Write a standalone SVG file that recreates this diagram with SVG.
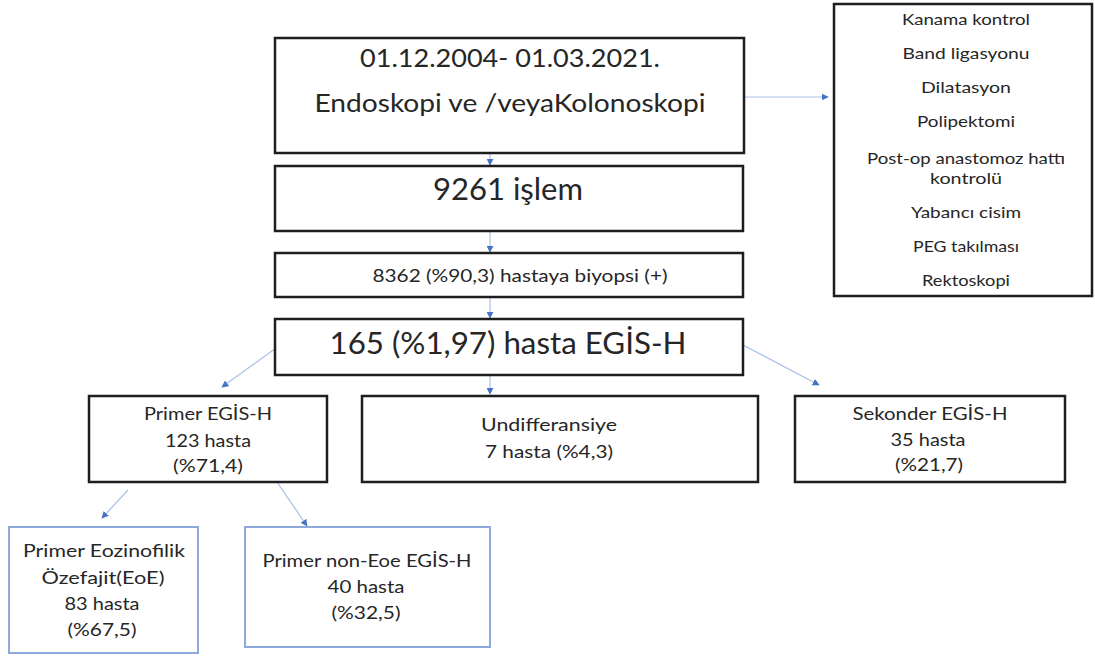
<svg xmlns="http://www.w3.org/2000/svg" width="1095" height="658" viewBox="0 0 1095 658">
  <defs>
    <marker id="arr" viewBox="0 0 10 10" refX="9" refY="5" markerWidth="7" markerHeight="7" markerUnits="userSpaceOnUse" orient="auto">
      <path d="M0,0 L10,5 L0,10 z" fill="#4472c4"/>
    </marker>
    <style>
      .box { fill: #ffffff; stroke: #1e1e1e; stroke-width: 2.5; }
      .bbox { fill: #ffffff; stroke: #8eaadb; stroke-width: 2; }
      .lnk { fill: none; stroke: #a8c0e8; stroke-width: 1.2; marker-end: url(#arr); }
      text { font-family: Lato, "Open Sans", "Liberation Sans", sans-serif; fill: #262626; text-anchor: middle; }
      .t24 { font-size: 25px; }
      .t30 { font-size: 31px; }
      .t18 { font-size: 18px; }
      .t16 { font-size: 17px; }
      .t15 { font-size: 15px; }
    </style>
  </defs>
  <rect width="1095" height="658" fill="#ffffff"/>

  <!-- connectors -->
  <g id="connectors">
    <line class="lnk" x1="744" y1="97" x2="828" y2="97"/>
    <line class="lnk" x1="490" y1="153" x2="490" y2="165"/>
    <line class="lnk" x1="490" y1="231" x2="490" y2="252"/>
    <line class="lnk" x1="490" y1="297" x2="490" y2="318"/>
    <line class="lnk" x1="490" y1="375" x2="490" y2="394"/>
    <line class="lnk" x1="276" y1="348" x2="222" y2="387"/>
    <line class="lnk" x1="743" y1="345" x2="819" y2="385"/>
    <line class="lnk" x1="128" y1="490" x2="102" y2="518"/>
    <line class="lnk" x1="277" y1="482" x2="307" y2="526"/>
  </g>

  <g id="period">
    <rect class="box" x="275" y="38" width="469" height="115"/>
    <text class="t24" x="510" y="67" textLength="300" lengthAdjust="spacingAndGlyphs">01.12.2004- 01.03.2021.</text>
    <text class="t24" x="510" y="112" textLength="391" lengthAdjust="spacingAndGlyphs">Endoskopi ve /veyaKolonoskopi</text>
  </g>

  <g id="procedures">
    <rect class="box" x="834" y="4" width="258" height="292"/>
    <text class="t15" x="966" y="25" textLength="128" lengthAdjust="spacingAndGlyphs">Kanama kontrol</text>
    <text class="t15" x="966" y="59" textLength="127" lengthAdjust="spacingAndGlyphs">Band ligasyonu</text>
    <text class="t15" x="966" y="93" textLength="90" lengthAdjust="spacingAndGlyphs">Dilatasyon</text>
    <text class="t15" x="966" y="127" textLength="98" lengthAdjust="spacingAndGlyphs">Polipektomi</text>
    <text class="t15" x="966" y="164" textLength="198" lengthAdjust="spacingAndGlyphs">Post-op anastomoz hattı</text>
    <text class="t15" x="966" y="184" textLength="72" lengthAdjust="spacingAndGlyphs">kontrolü</text>
    <text class="t15" x="966" y="218" textLength="110" lengthAdjust="spacingAndGlyphs">Yabancı cisim</text>
    <text class="t15" x="966" y="252" textLength="106" lengthAdjust="spacingAndGlyphs">PEG takılması</text>
    <text class="t15" x="966" y="286" textLength="88" lengthAdjust="spacingAndGlyphs">Rektoskopi</text>
  </g>

  <g id="procedures-count">
    <rect class="box" x="275" y="166" width="468" height="65"/>
    <text class="t30" x="508" y="200" textLength="150" lengthAdjust="spacingAndGlyphs">9261 işlem</text>
  </g>

  <g id="biopsy">
    <rect class="box" x="275" y="253" width="468" height="44"/>
    <text class="t16" x="520" y="282" textLength="295" lengthAdjust="spacingAndGlyphs">8362 (%90,3) hastaya biyopsi (+)</text>
  </g>

  <g id="egis">
    <rect class="box" x="275" y="319" width="468" height="56"/>
    <text class="t30" x="508" y="354" textLength="357" lengthAdjust="spacingAndGlyphs">165 (%1,97) hasta EGİS-H</text>
  </g>

  <g id="primary">
    <rect class="box" x="89" y="396" width="238" height="86"/>
    <text class="t18" x="208" y="420" textLength="128" lengthAdjust="spacingAndGlyphs">Primer EGİS-H</text>
    <text class="t18" x="208" y="447" textLength="86" lengthAdjust="spacingAndGlyphs">123 hasta</text>
    <text class="t18" x="208" y="472" textLength="70" lengthAdjust="spacingAndGlyphs">(%71,4)</text>
  </g>

  <g id="undifferentiated">
    <rect class="box" x="362" y="396" width="396" height="86"/>
    <text class="t18" x="549" y="431" textLength="136" lengthAdjust="spacingAndGlyphs">Undifferansiye</text>
    <text class="t18" x="549" y="458" textLength="128" lengthAdjust="spacingAndGlyphs">7 hasta (%4,3)</text>
  </g>

  <g id="secondary">
    <rect class="box" x="795" y="396" width="270" height="86"/>
    <text class="t18" x="930" y="420" textLength="155" lengthAdjust="spacingAndGlyphs">Sekonder EGİS-H</text>
    <text class="t18" x="928" y="446" textLength="75" lengthAdjust="spacingAndGlyphs">35 hasta</text>
    <text class="t18" x="929" y="471" textLength="68" lengthAdjust="spacingAndGlyphs">(%21,7)</text>
  </g>

  <g id="eoe">
    <rect class="bbox" x="9" y="527" width="189" height="126"/>
    <text class="t18" x="104" y="557" textLength="162" lengthAdjust="spacingAndGlyphs">Primer Eozinofilik</text>
    <text class="t18" x="103" y="584" textLength="123" lengthAdjust="spacingAndGlyphs">Özefajit(EoE)</text>
    <text class="t18" x="102" y="610" textLength="75" lengthAdjust="spacingAndGlyphs">83 hasta</text>
    <text class="t18" x="102" y="636" textLength="69" lengthAdjust="spacingAndGlyphs">(%67,5)</text>
  </g>

  <g id="non-eoe">
    <rect class="bbox" x="245" y="527" width="245" height="120"/>
    <text class="t18" x="367" y="567" textLength="209" lengthAdjust="spacingAndGlyphs">Primer non-Eoe EGİS-H</text>
    <text class="t18" x="366" y="593" textLength="77" lengthAdjust="spacingAndGlyphs">40 hasta</text>
    <text class="t18" x="366" y="619" textLength="69" lengthAdjust="spacingAndGlyphs">(%32,5)</text>
  </g>
</svg>
